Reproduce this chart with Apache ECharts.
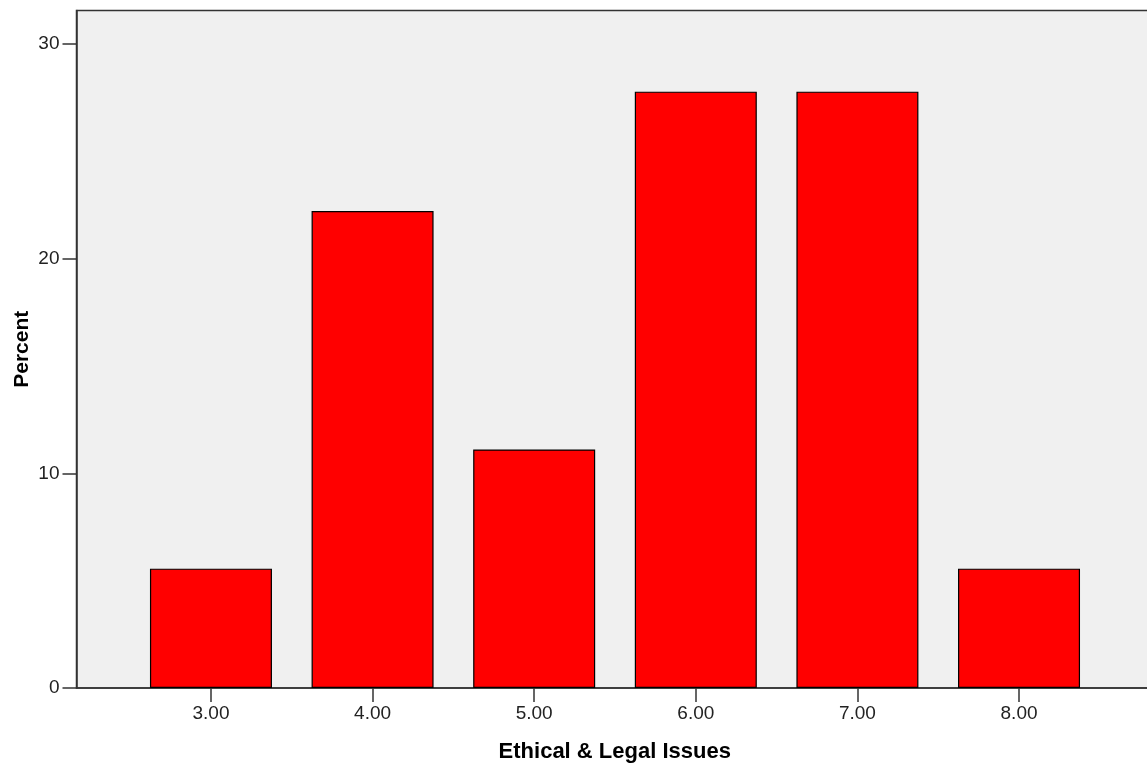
<!DOCTYPE html>
<html>
<head>
<meta charset="utf-8">
<script src="https://cdn.jsdelivr.net/npm/echarts@6/dist/echarts.min.js"></script>
<style>
html,body{margin:0;padding:0;background:#fff;}
#chart{width:1147px;height:767px;}
</style>
</head>
<body>
<div id="chart"></div>
<script>
const categories = [3, 4, 5, 6, 7, 8];
const percents = [5.56, 22.22, 11.11, 27.78, 27.78, 5.56];
const yTicks = [0, 10, 20, 30];
const xTitle = 'Ethical & Legal Issues';
const yTitle = 'Percent';

const chart = echarts.init(document.getElementById('chart'), null, {renderer: 'canvas'});
const tickFont = '"Liberation Sans", Arial, sans-serif';
const titleFont = '"Liberation Sans", Arial, sans-serif';
chart.setOption({
  animation: false,
  backgroundColor: '#ffffff',
  grid: {
    left: 76.5, top: 10.5, right: -6, bottom: 79,
    outerBoundsMode: 'none', containLabel: false,
    show: true, backgroundColor: '#f0f0f0', borderColor: '#333333', borderWidth: 1.5
  },
  xAxis: {
    type: 'value',
    min: 2.168, max: 8.829,
    splitLine: {show: false},
    axisLine: {show: true, lineStyle: {color: '#333333', width: 1.5}},
    axisTick: {show: true, length: 14, lineStyle: {color: '#333333', width: 1.5}, customValues: categories},
    axisLabel: {
      customValues: categories, margin: 16,
      fontFamily: tickFont, fontSize: 19, color: '#222222',
      formatter: v => v.toFixed(2)
    },
    name: xTitle, nameLocation: 'middle', nameGap: 53, nameMoveOverlap: false,
    nameTextStyle: {fontFamily: titleFont, fontWeight: 'bold', fontSize: 22, color: '#000000'}
  },
  yAxis: {
    type: 'value', min: 0, max: 31.56, interval: 10,
    splitLine: {show: false},
    axisLine: {show: true, lineStyle: {color: '#333333', width: 1.5}},
    axisTick: {show: true, length: 14, lineStyle: {color: '#333333', width: 1.5}, customValues: yTicks},
    axisLabel: {
      customValues: yTicks, margin: 17,
      fontFamily: tickFont, fontSize: 19, color: '#222222'
    },
    name: yTitle, nameLocation: 'middle', nameGap: 44, nameRotate: 90, nameMoveOverlap: false,
    nameTextStyle: {fontFamily: titleFont, fontWeight: 'bold', fontSize: 21, color: '#000000'}
  },
  series: [{
    type: 'bar',
    barWidth: 122,
    data: categories.map((c, i) => [c, percents[i]]),
    itemStyle: {color: '#ff0000', borderColor: '#000000', borderWidth: 1.2}
  }]
});
</script>
</body>
</html>
